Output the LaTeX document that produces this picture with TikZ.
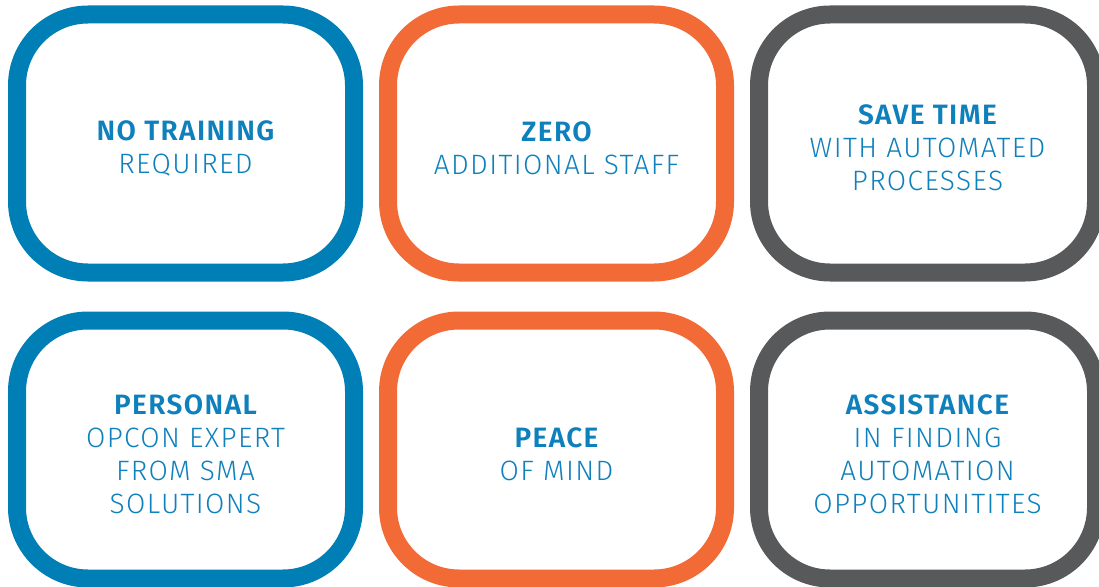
\documentclass[tikz,border=0pt]{standalone}
\usepackage{fontspec}
\setmainfont{Fira Sans}
\newfontfamily\thinfont[LetterSpace=5]{Fira Sans Light}

\begin{document}
\begin{tikzpicture}[x=1pt,y=-1pt]

  \definecolor{cardblue}{RGB}{0,126,182}
  \definecolor{cardorange}{RGB}{242,106,54}
  \definecolor{cardgrey}{RGB}{88,89,91}
  \definecolor{txtblue}{RGB}{14,128,188}

  \newcommand{\hd}[1]{{\bfseries #1}}

  \tikzset{
      card/.style={draw=#1,line width=18pt,rounded corners=71pt,
        minimum width=337pt,minimum height=258pt,inner sep=0pt},
      cardtxt/.style={align=center,text=txtblue,inner sep=0pt,yshift=-4.5pt,
        font=\fontsize{28}{33}\selectfont\thinfont},
    }

  %% fixes the page size.
  \useasboundingbox (0,0) rectangle (1099,586);

  % top row
  \node[card=cardblue] (train) at (185.5,143.5) {};
  \node[cardtxt] (train-t) at (train.center)
    {\hd{NO TRAINING}\\REQUIRED};
  \node[card=cardorange] (staff) at (556.5,143.5) {};
  \node[cardtxt] (staff-t) at (staff.center)
    {\hd{ZERO}\\ADDITIONAL STAFF};
  \node[card=cardgrey] (time) at (927.5,143.5) {};
  \node[cardtxt] (time-t) at (time.center)
    {\hd{SAVE TIME}\\WITH AUTOMATED\\PROCESSES};

  % bottom row
  \node[card=cardblue] (expert) at (185.5,449.5) {};
  \node[cardtxt] (expert-t) at (expert.center)
    {\hd{PERSONAL}\\OPCON EXPERT\\FROM SMA\\SOLUTIONS};
  \node[card=cardorange] (peace) at (556.5,449.5) {};
  \node[cardtxt] (peace-t) at (peace.center)
    {\hd{PEACE}\\OF MIND};
  \node[card=cardgrey] (assist) at (927.5,449.5) {};
  \node[cardtxt] (assist-t) at (assist.center)
    {\hd{ASSISTANCE}\\IN FINDING\\AUTOMATION\\OPPORTUNITITES};

\end{tikzpicture}
\end{document}
